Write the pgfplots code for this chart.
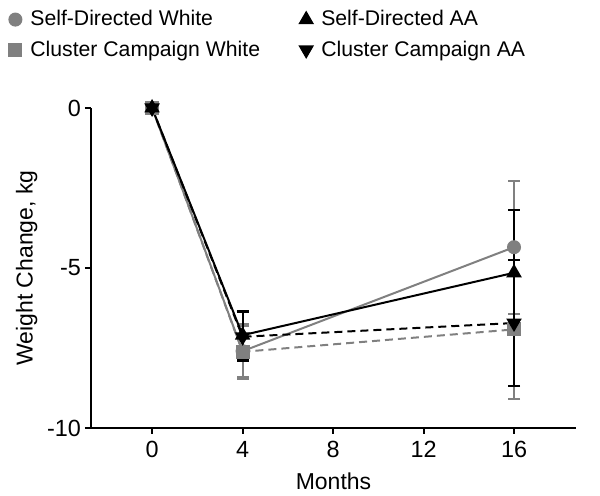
\documentclass[border=0pt]{standalone}
\usepackage{pgfplots}
\pgfplotsset{compat=1.18}
\usepackage{fontspec}
\setmainfont{Liberation Sans}
\definecolor{g}{RGB}{128,128,128}
\begin{document}
\begin{tikzpicture}
\begin{axis}[
 scale only axis, width=242.5pt, height=160pt,
 xmin=-2.7, xmax=18.74, ymin=-10, ymax=0,
 axis lines=left, axis line style={line width=1pt, -},
 xtick={0,4,8,12,16}, xticklabels={0,4,8,12,16},
 ytick={-10,-5,0}, yticklabels={-10,-5,0},
 tick style={line width=1pt, black}, tick align=outside, major tick length=3pt,
 clip=false,
 tick label style={font=\fontsize{11.7}{13}\selectfont},
 yticklabel style={xshift=1.5pt},
 label style={font=\fontsize{11.5}{13}\selectfont},
 xlabel=Months, ylabel={Weight Change, kg},
 xlabel style={yshift=-0.5pt},
 ylabel style={yshift=-2pt},
 legend columns=2,
 legend cell align=left,
 legend style={draw=none, fill=none, at={(rel axis cs:0,1)}, anchor=north west,
   xshift=-44pt, yshift=53pt,
   font=\fontsize{10.6}{12}\selectfont,
   /tikz/every odd column/.append style={column sep=2.5pt},
   /tikz/every even column/.append style={column sep=18pt},
   row sep=2pt},
 every axis plot/.append style={line width=1pt},
 error bars/error bar style={line width=1pt},
 error bars/error mark options={line width=1pt, mark size=3pt, rotate=90},
]
\addlegendimage{only marks, mark=*, g, mark size=3pt}
\addlegendentry{Self-Directed White}
\addlegendimage{only marks, mark=triangle*, black, mark size=3.5pt}
\addlegendentry{Self-Directed AA}
\addlegendimage{only marks, mark=square*, g, mark size=3pt}
\addlegendentry{Cluster Campaign White}
\addlegendimage{only marks, mark=triangle*, black, mark size=3.5pt, mark options={rotate=180}}
\addlegendentry{Cluster Campaign AA}

% Self-Directed White
\addplot[g, solid, mark=*, mark size=3pt, forget plot,
  error bars/.cd, y dir=both, y explicit] table[x=x, y=y, y error=e] {
x y e
0 0 0
4 -7.60 0.80
16 -4.35 2.08
};
% Cluster Campaign White
\addplot[g, dash pattern=on 4pt off 2.5pt, mark=square*, mark size=3pt, mark options={solid}, forget plot,
  error bars/.cd, y dir=both, y explicit, error bar style={solid}] table[x=x, y=y, y error=e] {
x y e
0 0 0
4 -7.62 0.86
16 -6.92 2.16
};
% Self-Directed AA
\addplot[black, solid, mark=triangle*, mark size=3.5pt, forget plot,
  error bars/.cd, y dir=both, y explicit] table[x=x, y=y, y error=e] {
x y e
0 0 0
4 -7.10 0.75
16 -5.15 1.95
};
% Cluster Campaign AA
\addplot[black, dash pattern=on 4pt off 2.5pt, mark=triangle*, mark size=3.5pt, mark options={solid, rotate=180}, forget plot,
  error bars/.cd, y dir=both, y explicit, error bar style={solid}] table[x=x, y=y, y error=e] {
x y e
0 0 0
4 -7.15 0.77
16 -6.72 1.98
};
\path (rel axis cs:0,0) ++(-45.5pt,-31.75pt) (rel axis cs:1,1) ++(12pt,54pt);
\end{axis}
\end{tikzpicture}
\end{document}
